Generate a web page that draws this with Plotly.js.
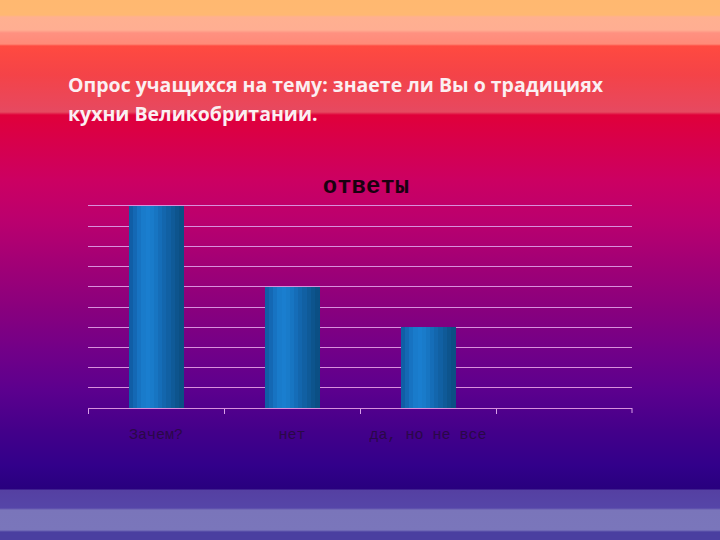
<!DOCTYPE html>
<html>
<head>
<meta charset="utf-8">
<script src="https://cdn.plot.ly/plotly-3.0.1.min.js"></script>
<style>
html, body { margin:0; padding:0; width:720px; height:540px; overflow:hidden; }
body {
  background: linear-gradient(to bottom,
    #FFB870 0px, #FFB872 15px, #FFB090 17px, #FFAE92 30px, #FF9080 33px, #FF8A78 44px,
    #FF4A40 46px, #F44348 75px, #E8485E 108px, #E64A60 112px,
    #E0003A 115px, #D8004A 140px, #CC0062 180px, #BB006E 220px, #A10076 265px,
    #88007E 310px, #720088 350px, #5C008E 390px, #44008A 430px, #32008A 465px, #28007E 489px,
    #5540A2 490px, #5545A8 508px, #7A75BA 510px, #7A76BB 530px, #4A3FA0 532px, #4A3FA0 540px);
}
#chart { width:720px; height:540px; }
</style>
</head>
<body>
<div id="chart"></div>
<script>
const slideTitle = ['Опрос учащихся на тему: знаете ли Вы о традициях', 'кухни Великобритании.'];
const chartTitle = 'ответы';
const categories = ['Зачем?', 'нет', 'да, но не все'];
const values = [10, 6, 4];
const stripColors = ['#105EA6', '#1468B4', '#1773C2', '#197BCB', '#1A7ECF', '#197BCA', '#1775C2',
                     '#156DB8', '#1366AD', '#1160A3', '#0F5A98', '#0D548D', '#0B4F84'];

const n = stripColors.length;
const total = 0.4;
const w = total / n;
const traces = stripColors.map((c, i) => ({
  type: 'bar',
  x: categories,
  y: values,
  width: w * 1.1,
  offset: -total / 2 + i * w,
  marker: { color: c, line: { width: 0 } },
  hoverinfo: 'skip',
  showlegend: false
}));

const layout = {
  width: 720, height: 540,
  paper_bgcolor: 'rgba(0,0,0,0)',
  plot_bgcolor: 'rgba(0,0,0,0)',
  margin: { l: 88, r: 88, t: 206, b: 132 },
  barmode: 'overlay',
  bargap: 0,
  showlegend: false,
  title: {
    text: '<b>' + chartTitle + '</b>',
    font: { family: 'Liberation Mono', size: 24, color: '#1a0010' },
    x: 366 / 720, xanchor: 'center', y: 1 - 185 / 540, yanchor: 'middle', yref: 'container'
  },
  xaxis: {
    type: 'category',
    range: [-0.5, 3.5],
    tickson: 'boundaries',
    ticks: 'outside', ticklen: 5, tickcolor: '#d8a0e8',
    showline: true, mirror: true, linecolor: '#d890dc', linewidth: 1,
    showgrid: false,
    ticklabelstandoff: 12,
    tickfont: { family: 'Liberation Mono', size: 15, color: '#2a0848' },
    fixedrange: true
  },
  yaxis: {
    range: [0, 10],
    dtick: 1,
    showgrid: true, gridcolor: '#d890dc', gridwidth: 1,
    showticklabels: false, ticks: '',
    zeroline: false, showline: false,
    fixedrange: true
  },
  shapes: [
    { type: 'line', xref: 'paper', yref: 'paper', x0: 1, x1: 1, y0: 0, y1: -5 / 202,
      line: { color: '#d8a0e8', width: 1 } }
  ],
  annotations: [
    { text: '<b>' + slideTitle[0] + '</b>', xref: 'paper', yref: 'paper', x: -22/544, y: 1 + (206 - 85) / 202,
      xanchor: 'left', yanchor: 'middle', showarrow: false,
      font: { family: 'Open Sans, sans-serif', size: 19.5, color: '#FBEFF2' } },
    { text: '<b>' + slideTitle[1] + '</b>', xref: 'paper', yref: 'paper', x: -22/544, y: 1 + (206 - 113) / 202,
      xanchor: 'left', yanchor: 'middle', showarrow: false,
      font: { family: 'Open Sans, sans-serif', size: 19.5, color: '#FBEFF2' } }
  ]
};

Plotly.newPlot('chart', traces, layout, { displayModeBar: false, staticPlot: true });
</script>
</body>
</html>
